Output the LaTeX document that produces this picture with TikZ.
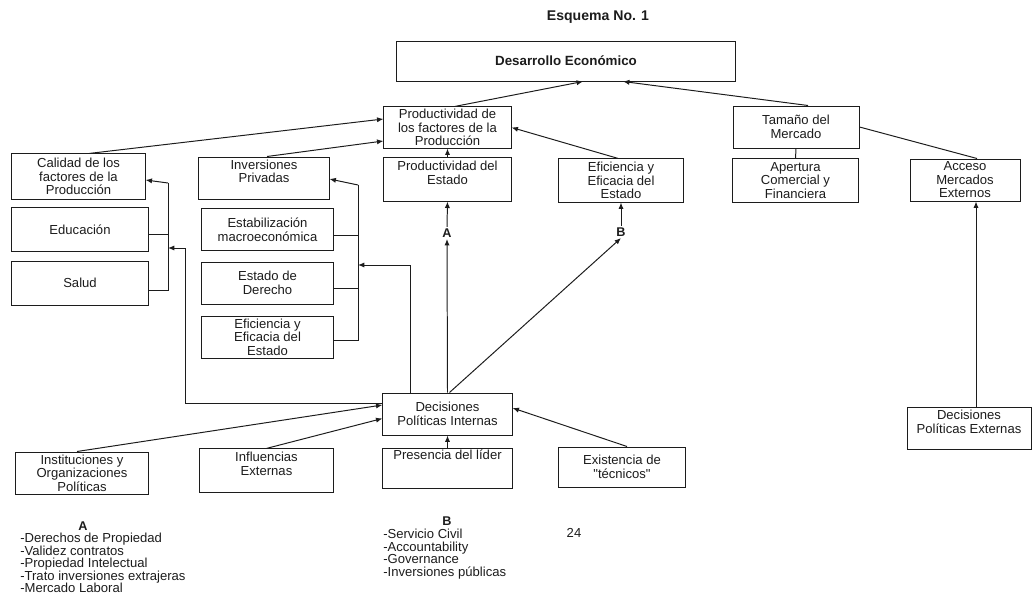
\documentclass[tikz,border=0pt]{standalone}
\usepackage{fontspec}
\setmainfont{Liberation Sans}
\usepackage{tikz}
\usetikzlibrary{arrows.meta,positioning,calc}
\definecolor{InkBlack}{HTML}{1C1C1C}

\begin{document}
\begin{tikzpicture}[x=0.025cm, y=-0.025cm,
  every node/.style={font=\fontsize{9.3}{9.6}\selectfont, align=center, text=InkBlack},
  box/.style={draw=InkBlack, line width=0.7pt, inner sep=1pt},
  lnk/.style={draw=InkBlack, line width=0.7pt},
  arr/.style={lnk, -{Latex[length=1.6mm, width=1.3mm]}}]
  \useasboundingbox (0,0) rectangle (1032,597);

  \node[font=\fontsize{10}{12}\selectfont\bfseries] (titulo) at (598,17) {Esquema No. 1};
  \node[box, minimum width=8.45cm, minimum height=1.0cm, font=\fontsize{9.5}{11}\selectfont\bfseries] (desarrollo) at (566,61) {Desarrollo Económico};

  \node[box, minimum width=3.18cm, minimum height=1.03cm] (prodfact) at (447.5,127.5) {Productividad de\\los factores de la\\Producción};
  \node[box, minimum width=3.18cm, minimum height=1.08cm] (prodest) at (447.5,179.5) {Productividad del\\Estado\\~};
  \node[box, minimum width=3.1cm, minimum height=1.08cm] (eficR) at (621,180.5) {Eficiencia y\\Eficacia del\\Estado};
  \node[box, minimum width=3.15cm, minimum height=1.05cm] (tamano) at (796,127) {Tamaño del\\Mercado};
  \node[box, minimum width=3.13cm, minimum height=1.08cm] (apertura) at (795.5,180.5) {Apertura\\Comercial y\\Financiera};
  \node[box, minimum width=2.75cm, minimum height=1.05cm] (acceso) at (965,180) {Acceso\\Mercados\\Externos};

  \node[box, minimum width=3.33cm, minimum height=1.13cm] (calidad) at (78.5,176.5) {Calidad de los\\factores de la\\Producción};
  \node[box, minimum width=3.4cm, minimum height=1.08cm] (educ) at (80,229.5) {Educación};
  \node[box, minimum width=3.4cm, minimum height=1.1cm] (salud) at (80,283) {Salud};

  \node[box, minimum width=3.25cm, minimum height=1.05cm] (invpriv) at (264,178) {Inversiones\\Privadas\\~};
  \node[box, minimum width=3.28cm, minimum height=1.03cm] (estab) at (267.5,229.5) {Estabilización\\macroeconómica};
  \node[box, minimum width=3.28cm, minimum height=1.05cm] (derecho) at (267.5,283) {Estado de\\Derecho};
  \node[box, minimum width=3.28cm, minimum height=1.05cm] (eficL) at (267.5,337) {Eficiencia y\\Eficacia del\\Estado};

  \node[box, minimum width=3.23cm, minimum height=1.05cm] (decint) at (447.5,414) {Decisiones\\Políticas Internas};
  \node[box, minimum width=3.3cm, minimum height=1.05cm] (instit) at (82,473) {Instituciones y\\Organizaciones\\Políticas};
  \node[box, minimum width=3.33cm, minimum height=1.08cm] (influ) at (266.5,470.5) {Influencias\\Externas\\~};
  \node[box, minimum width=3.23cm, minimum height=0.98cm] (lider) at (447.5,468.5) {Presencia del líder\\~\\~};
  \node[box, minimum width=3.15cm, minimum height=1.0cm] (tecnicos) at (622,467) {Existencia de\\\textquotedbl técnicos\textquotedbl};
  \node[box, minimum width=3.1cm, minimum height=1.03cm] (decext) at (969,428.5) {Decisiones\\Políticas Externas\\~};

  \node[font=\fontsize{9}{10}\selectfont\bfseries, inner sep=1pt] (marcaA) at (447,233) {A};
  \node[font=\fontsize{9}{10}\selectfont\bfseries, inner sep=1pt] (marcaB) at (621,232) {B};

  \coordinate (jLtop) at (168,183);
  \coordinate (jLmid) at (168,248);
  \coordinate (jLbot) at (168,290);
  \coordinate (jRtop) at (358,185);
  \coordinate (jRmid) at (358,265);
  \coordinate (jRbot) at (358,340);

  \draw[arr] ($(prodfact.north)+(7.5,0)$) -- ($(desarrollo.south)+(17,0)$);
  \draw[arr] ($(tamano.north)+(12,0)$) -- ($(desarrollo.south)+(57,0)$);
  \draw[lnk] (tamano.east) -- ($(acceso.north)+(12,0)$);
  \draw[lnk] (tamano.south) -- (apertura.north);
  \draw[arr] ($(eficR.north)+(-3,0)$) -- (prodfact.east);
  \draw[arr] (prodest.north) -- (prodfact.south);
  \draw[arr] ($(calidad.north)+(11,0)$) -- ($(prodfact.west)+(0,-8.5)$);
  \draw[arr] ($(invpriv.north)+(3,0)$) -- ($(prodfact.west)+(0,13.5)$);

  \draw[lnk] ($(educ.east)+(0,4.5)$) -- ++(20,0);
  \draw[lnk] ($(salud.east)+(0,7)$) -- (jLbot) -- (jLtop);
  \draw[arr] (jLtop) -- ($(calidad.east)+(0,3.5)$);
  \draw[lnk] ($(estab.east)+(0,5.5)$) -- ++(25,0);
  \draw[lnk] ($(derecho.east)+(0,5)$) -- ++(25,0);
  \draw[lnk] ($(eficL.east)+(0,3)$) -- (jRbot) -- (jRtop);
  \draw[arr] (jRtop) -- ($(invpriv.east)+(0,1)$);

  \draw[arr] ($(decint.north)+(-37,0)$) |- (jRmid);
  \draw[arr] ($(decint.west)+(0,-11)$) -| ($(jLmid)+(17,0)$) -- (jLmid);
  \draw[arr] (decint.north) -- (marcaA.south);
  \draw[arr] (marcaA.north) -- (prodest.south);
  \draw[arr] ($(decint.north)+(2,0)$) -- (marcaB.south);
  \draw[arr] (marcaB.north) -- (eficR.south);

  \draw[arr] ($(instit.north)+(-5,0)$) -- ($(decint.west)+(0,-9)$);
  \draw[arr] (influ.north) -- ($(decint.west)+(0,4.5)$);
  \draw[arr] (lider.north) -- (decint.south);
  \draw[arr] ($(tecnicos.north)+(5,0)$) -- ($(decint.east)+(0,-6)$);
  \draw[arr] ($(decext.north)+(7,0)$) -- ($(acceso.south)+(11,0)$);

  \node[font=\fontsize{9}{10}\selectfont\bfseries] (notaA) at (83,526) {A};
  \node[anchor=north west, align=left, inner sep=0pt, font=\fontsize{9.3}{8.9}\selectfont] (listaA) at (20,533)
  {-Derechos de Propiedad\\-Validez contratos\\-Propiedad Intelectual\\-Trato inversiones extrajeras\\-Mercado Laboral};
  \node[font=\fontsize{9}{10}\selectfont\bfseries] (notaB) at (447,521) {B};
  \node[anchor=north west, align=left, inner sep=0pt, font=\fontsize{9.3}{8.9}\selectfont] (listaB) at (383,529)
  {-Servicio Civil\\-Accountability\\-Governance\\-Inversiones públicas};
  \node (pagina) at (574,533) {24};
\end{tikzpicture}
\end{document}
